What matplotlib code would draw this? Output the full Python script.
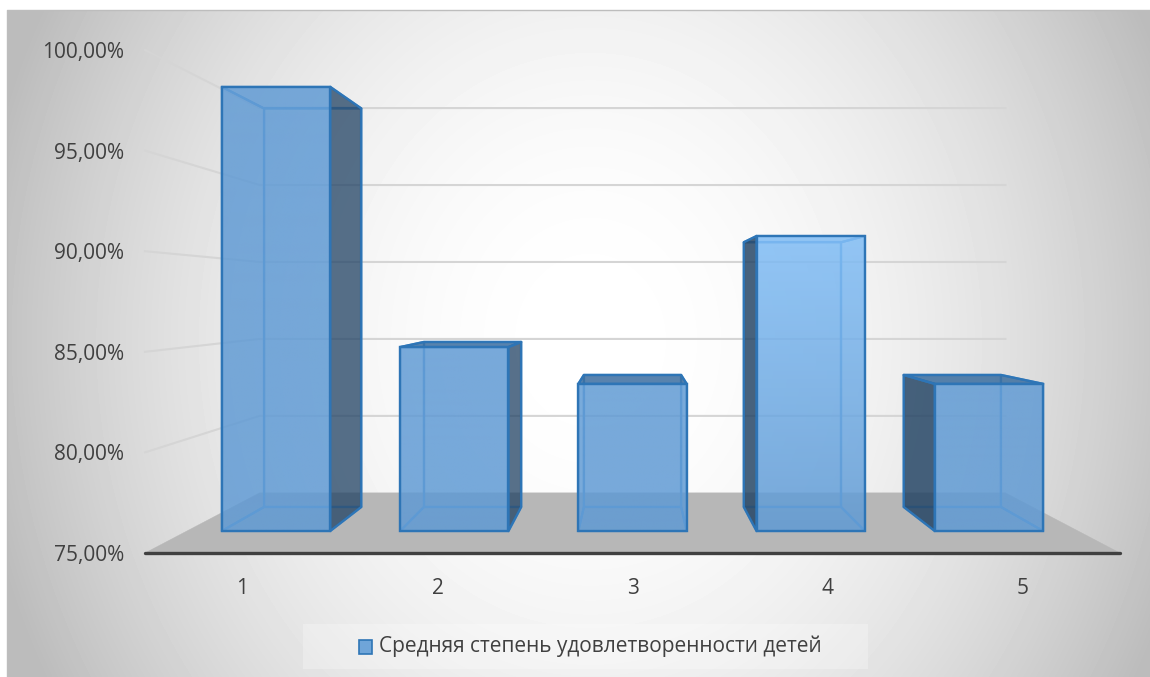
import numpy as np
import matplotlib
matplotlib.use("Agg")
import matplotlib.pyplot as plt
from matplotlib.colors import to_rgb, to_rgba
from matplotlib.patches import Polygon, Rectangle

categories = ["1", "2", "3", "4", "5"]
values = [99.15, 85.0, 83.0, 91.04, 83.0]
y_ticks = [75, 80, 85, 90, 95, 100]
y_labels = ["75,00%", "80,00%", "85,00%", "90,00%", "95,00%", "100,00%"]
legend_label = "Средняя степень удовлетворенности детей"

W, H = 1150, 677
BAR_W = 0.608
FLOOR = 75
# perspective: scale of the plane at each depth, and vanishing point
S_BACK = 0.765
S_BAR_FRONT = 0.914
S_BAR_BACK = 0.82
VP_X = 2.5
VP_Y = 87.72

LINE = '#2e75b6'
INNER = '#5b9bd5'
DARK = '#1f3f5f'
TOP_DARK = '#34689b'
# front colour at the top and bottom of each bar, bar 4 catches more light
front_top = ['#5f9ad4', '#5f9ad4', '#5f9ad4', '#80bdf6', '#5f9ad4']
front_bottom = ['#5f9ad4', '#5f9ad4', '#5f9ad4', '#5f9ad4', '#5f9ad4']

plt.rcParams['font.family'] = ['Open Sans', 'DejaVu Sans']

fig = plt.figure(figsize=(W / 100, H / 100), dpi=100, facecolor='white')

# background of the chart area
bg = fig.add_axes([0, 0, 1, 1], zorder=0)
bg.axis('off')
xx, yy = np.meshgrid(np.arange(7, W), np.arange(10, H))
t2 = ((xx - 590) / 565.0) ** 2 + ((yy - 340) / 650.0) ** 2
shade = np.clip(255 - 56 * t2, 188, 255) / 255.0
bg.imshow(shade, cmap='gray', vmin=0, vmax=1, extent=(7, W, H, 10), aspect='auto')
bg.plot([7, 7, W], [H, 10, 10], color='#bdbdbd', lw=1.0)
bg.set_xlim(0, W)
bg.set_ylim(H, 0)
bg.add_patch(Rectangle((303, 624), 565, 45, fc='white', ec='none', alpha=0.25))

# front plane of the 3d box is the axes itself
ax = fig.add_axes([145 / W, 1 - 553 / H, 975 / W, 503 / H], zorder=1)
ax.patch.set_alpha(0)
n = len(categories)
for s in ax.spines.values():
    s.set_visible(False)


def proj(x, v, s):
    return VP_X + s * (x - VP_X), VP_Y + s * (v - VP_Y)


def face(points, fc, alpha, ec, lw, z):
    ax.add_patch(Polygon(points, closed=True, facecolor=to_rgba(fc, alpha),
                         edgecolor=to_rgba(ec), linewidth=lw, joinstyle='round',
                         zorder=z, clip_on=False))


def front_face(x0, x1, y0, y1, c_top, c_bottom, alpha):
    # vertical gradient, y0 is the bottom of the bar on screen
    top = np.array(to_rgb(c_top))
    bottom = np.array(to_rgb(c_bottom))
    ramp = np.linspace(0, 1, 64)[:, None]
    rgba = np.ones((64, 1, 4))
    rgba[:, 0, :3] = top * (1 - ramp) + bottom * ramp
    rgba[:, 0, 3] = alpha
    ax.imshow(rgba, extent=(x0, x1, y0, y1), aspect='auto', zorder=6, origin='upper',
              interpolation='bilinear', clip_on=False)
    ax.add_patch(Rectangle((x0, y0), x1 - x0, y1 - y0, fc='none', ec=LINE, lw=1.7,
                           zorder=7, clip_on=False))


# walls and floor
for v in y_ticks[1:]:
    p0 = proj(0, v, 1)
    p1 = proj(0, v, S_BACK)
    p2 = proj(n, v, S_BACK)
    ax.plot([p0[0], p1[0], p2[0]], [p0[1], p1[1], p2[1]], color='#d5d5d5', lw=1.5,
            zorder=1, clip_on=False)
face([proj(0, FLOOR, 1), proj(n, FLOOR, 1), proj(n, FLOOR, S_BACK), proj(0, FLOOR, S_BACK)],
     '#b7b7b7', 1.0, '#b7b7b7', 0.3, 2)
ax.plot([0, n], [FLOOR, FLOOR], color='#404040', lw=2.4, zorder=3, clip_on=False,
        solid_capstyle='round')

for i, val in enumerate(values):
    x0 = i + 0.5 - BAR_W / 2
    x1 = i + 0.5 + BAR_W / 2
    fb = [proj(x0, FLOOR, S_BAR_FRONT), proj(x1, FLOOR, S_BAR_FRONT)]
    ft = [proj(x0, val, S_BAR_FRONT), proj(x1, val, S_BAR_FRONT)]
    bb = [proj(x0, FLOOR, S_BAR_BACK), proj(x1, FLOOR, S_BAR_BACK)]
    bt = [proj(x0, val, S_BAR_BACK), proj(x1, val, S_BAR_BACK)]

    # faces inside the front rectangle, seen through it
    face([bb[0], bb[1], bt[1], bt[0]], INNER, 0.12, INNER, 1.6, 4)
    face([fb[0], fb[1], bb[1], bb[0]], INNER, 0.12, INNER, 1.6, 4)

    # side faces: dark when they stick out of the front rectangle
    if x0 > VP_X:
        face([fb[0], bb[0], bt[0], ft[0]], DARK, 0.80, LINE, 1.7, 5)
    else:
        face([fb[0], bb[0], bt[0], ft[0]], INNER, 0.08, INNER, 1.6, 4)
    if x1 < VP_X:
        face([fb[1], bb[1], bt[1], ft[1]], DARK, 0.72, LINE, 1.7, 5)
    else:
        face([fb[1], bb[1], bt[1], ft[1]], INNER, 0.08, INNER, 1.6, 4)

    # top face: dark when seen from above, faint when seen from below
    if val < VP_Y:
        face([ft[0], ft[1], bt[1], bt[0]], TOP_DARK, 0.8, LINE, 1.7, 5)
    else:
        face([ft[0], ft[1], bt[1], bt[0]], INNER, 0.10, INNER, 1.6, 4)

    front_face(fb[0][0], fb[1][0], fb[0][1], ft[0][1], front_top[i], front_bottom[i], 0.82)

ax.set_xlim(0, n)
ax.set_ylim(FLOOR, 100)
ax.set_xticks(np.arange(n) + 0.5)
ax.set_xticklabels(categories)
ax.set_yticks(y_ticks)
ax.set_yticklabels(y_labels)
ax.tick_params(axis='both', length=0, labelsize=15, labelcolor='#404040')
ax.tick_params(axis='x', pad=18)
ax.tick_params(axis='y', pad=15)

# legend
bg.add_patch(Rectangle((358.5, 639.5), 13, 14, fc='#6fa5d9', ec=LINE, lw=1.2))
bg.text(379, 646.5, legend_label, fontsize=15, color='#404040', va='center', ha='left')

fig.savefig("out.png", dpi=100)
